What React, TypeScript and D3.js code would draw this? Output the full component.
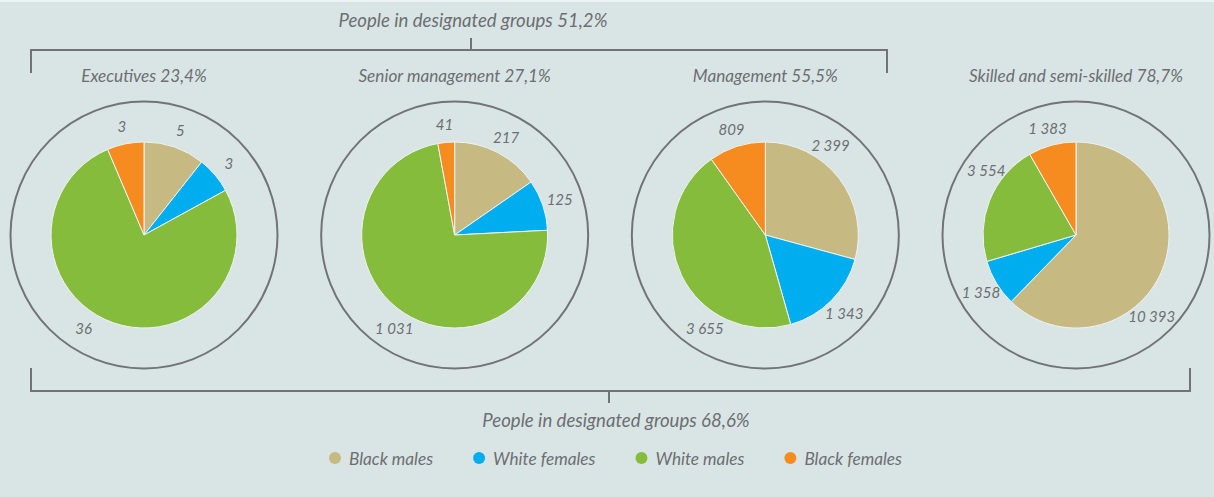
import React, { useEffect, useRef } from 'react';
import * as d3 from 'd3';

// employment equity by occupational level
const levels = ['Executives', 'Senior management', 'Management', 'Skilled and semi-skilled'];
const levelShares = [23.4, 27.1, 55.5, 78.7];
const groups = ['Black males', 'White females', 'White males', 'Black females'];
const groupColors = ['#c6b982', '#00aeef', '#86bc3b', '#f68b1f'];

const blackMales = [5, 217, 2399, 10393];
const whiteFemales = [3, 125, 1343, 1358];
const whiteMales = [36, 1031, 3655, 3554];
const blackFemales = [3, 41, 809, 1383];

const designatedTop = 51.2; // first three levels
const designatedAll = 68.6;

const WIDTH = 1214;
const HEIGHT = 497;
const TEXT = '#6d6e71';
const FONT = 'Lato, "Open Sans", sans-serif';

const locale = d3.formatLocale({ decimal: ',', thousands: ' ', grouping: [3], currency: ['', ''] });
const fmtInt = locale.format(',d');
const fmtPct = locale.format('.1f');

const App: React.FC = () => {
  const svgRef = useRef<SVGSVGElement>(null);

  useEffect(() => {
    if (!svgRef.current) return;
    const svg = d3.select(svgRef.current);
    svg.selectAll('*').remove();

    svg.append('rect').attr('width', WIDTH).attr('height', HEIGHT).attr('fill', '#d9e5e5');
    svg.append('rect').attr('width', WIDTH).attr('height', 2).attr('fill', '#edf2f2');

    const x = d3.scalePoint<string>().domain(levels).range([144, 1076]);
    const cy = 235;
    const rPie = 93;
    const rRing = 133.5;
    const rLabel = 111;

    const pie = d3.pie<number>().sort(null).value(d => d);
    const arc = d3.arc<d3.PieArcDatum<number>>().innerRadius(0).outerRadius(rPie);

    const diagonals = [36, 137, 213, 306];

    levels.forEach((lvl, i) => {
      const cx = x(lvl) || 0;
      const values = [blackMales[i], whiteFemales[i], whiteMales[i], blackFemales[i]];
      const g = svg.append('g').attr('transform', `translate(${cx},${cy})`);

      g.append('circle')
        .attr('r', rRing)
        .attr('fill', 'none')
        .attr('stroke', '#727376')
        .attr('stroke-width', 2);

      const arcs = pie(values);
      g.selectAll('path.slice')
        .data(arcs)
        .enter()
        .append('path')
        .attr('class', 'slice')
        .attr('d', arc)
        .attr('fill', (_d, j) => groupColors[j])
        .attr('stroke', '#eef3f3')
        .attr('stroke-width', 1);

      // big slices get their label on the nearest diagonal
      g.selectAll('text.val')
        .data(arcs)
        .enter()
        .append('text')
        .attr('class', 'val')
        .each(function (d) {
          const s = (d.startAngle * 180) / Math.PI;
          const e = (d.endAngle * 180) / Math.PI;
          let a = (s + e) / 2;
          if (e - s > 70) {
            const inside = diagonals.filter(v => v > s && v < e);
            if (inside.length) a = inside.reduce((p, c) => (Math.abs(c - a) < Math.abs(p - a) ? c : p));
          }
          const rad = (a * Math.PI) / 180;
          d3.select(this)
            .attr('x', Math.sin(rad) * rLabel)
            .attr('y', -Math.cos(rad) * rLabel);
        })
        .attr('text-anchor', 'middle')
        .attr('dominant-baseline', 'central')
        .attr('font-family', FONT)
        .attr('font-style', 'italic')
        .attr('font-size', 15)
        .attr('fill', TEXT)
        .text(d => fmtInt(d.value));

      svg.append('text')
        .attr('x', cx)
        .attr('y', 82)
        .attr('text-anchor', 'middle')
        .attr('font-family', FONT)
        .attr('font-style', 'italic')
        .attr('font-size', 17.2)
        .attr('fill', TEXT)
        .text(`${lvl} ${fmtPct(levelShares[i])}%`);
    });

    // brackets
    const bracket = svg.append('g').attr('fill', 'none').attr('stroke', '#727376').attr('stroke-width', 2);
    bracket.append('path').attr('d', 'M31,73V50H887V73M471,50V38');
    bracket.append('path').attr('d', 'M31,368V391H1190V368M609,391V403');

    svg.append('text')
      .attr('x', 473)
      .attr('y', 27)
      .attr('text-anchor', 'middle')
      .attr('font-family', FONT)
      .attr('font-style', 'italic')
      .attr('font-size', 18.6)
      .attr('fill', TEXT)
      .text(`People in designated groups ${fmtPct(designatedTop)}%`);

    svg.append('text')
      .attr('x', 616)
      .attr('y', 427)
      .attr('text-anchor', 'middle')
      .attr('font-family', FONT)
      .attr('font-style', 'italic')
      .attr('font-size', 18.6)
      .attr('fill', TEXT)
      .text(`People in designated groups ${fmtPct(designatedAll)}%`);

    // legend
    const legend = svg.append('g').attr('transform', 'translate(335,458)');
    let lx = 0;
    groups.forEach((name, j) => {
      const item = legend.append('g').attr('transform', `translate(${lx},0)`);
      item.append('circle').attr('r', 6).attr('fill', groupColors[j]);
      const t = item.append('text')
        .attr('x', 14)
        .attr('dominant-baseline', 'central')
        .attr('font-family', FONT)
        .attr('font-style', 'italic')
        .attr('font-size', 17.2)
        .attr('fill', TEXT)
        .text(name);
      const w = (t.node() as SVGTextElement).getComputedTextLength();
      lx += 14 + w + 46;
    });
  }, []);

  return (
    <div style={{ position: 'absolute', left: 0, top: 0 }}>
      <svg ref={svgRef} width={WIDTH} height={HEIGHT} style={{ display: 'block' }} />
    </div>
  );
};

export default App;
